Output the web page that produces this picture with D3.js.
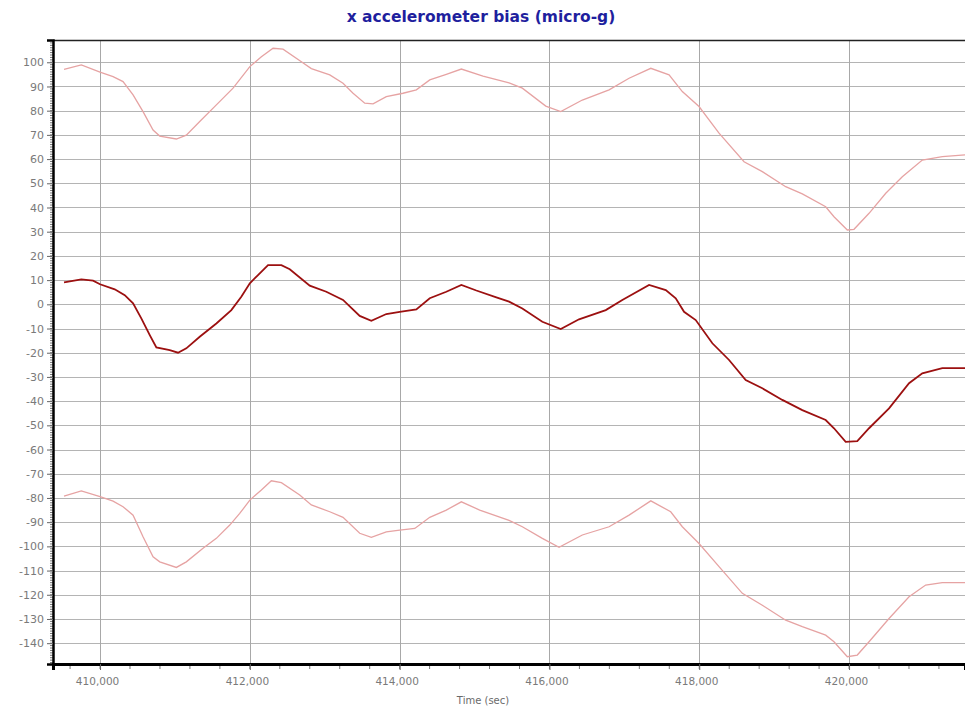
<!DOCTYPE html>
<html>
<head>
<meta charset="utf-8">
<script src="https://cdn.jsdelivr.net/npm/d3@7/dist/d3.min.js"></script>
<style>
  html, body { margin: 0; padding: 0; background: #fff; }
  svg { display: block; }
</style>
</head>
<body>
<svg id="chart" width="965" height="715"></svg>
<script>
// ---- data ----
const titleText = "x accelerometer bias (micro-g)";
const xAxisLabel = "Time (sec)";
const xTicks = [410000, 412000, 414000, 416000, 418000, 420000];
const yTicks = [100, 90, 80, 70, 60, 50, 40, 30, 20, 10, 0, -10, -20, -30, -40, -50, -60, -70, -80, -90, -100, -110, -120, -130, -140];

const biasTime = [409519, 409750, 409907, 410000, 410196, 410330, 410441, 410551, 410664, 410752, 410931, 411041, 411152, 411331, 411553, 411753, 411886, 412000, 412109, 412243, 412421, 412533, 412800, 413021, 413244, 413467, 413622, 413822, 414001, 414223, 414402, 414623, 414824, 415024, 415291, 415461, 415638, 415905, 416151, 416395, 416752, 416973, 417330, 417553, 417686, 417797, 417953, 418175, 418398, 418620, 418842, 419109, 419376, 419688, 419799, 419955, 420110, 420267, 420534, 420801, 420978, 421245, 421548];
const biasValues = [9.1, 10.3, 9.8, 8.3, 6.2, 3.8, 0.4, -5.8, -12.7, -17.8, -18.9, -20, -18.2, -13.4, -7.9, -2.4, 3.1, 8.7, 12.1, 16.2, 16.2, 14.5, 7.7, 5.2, 1.8, -4.8, -6.8, -4, -3.1, -2.1, 2.5, 5.2, 8, 5.7, 2.9, 1.1, -1.7, -7.2, -10.2, -6.2, -2.4, 1.8, 8, 5.9, 2.5, -3.1, -6.5, -16.1, -23, -31.3, -34.7, -39.5, -43.7, -47.8, -51.2, -56.8, -56.5, -51.2, -43, -32.6, -28.5, -26.4, -26.4];

const upperTime = [409519, 409750, 410000, 410174, 410307, 410441, 410574, 410708, 410797, 411019, 411152, 411331, 411553, 411776, 412000, 412154, 412310, 412443, 412688, 412821, 413067, 413244, 413378, 413534, 413645, 413822, 414045, 414223, 414402, 414623, 414824, 415113, 415461, 415638, 415951, 416151, 416439, 416796, 417063, 417353, 417597, 417774, 417997, 418264, 418598, 418842, 419154, 419376, 419688, 419799, 419977, 420066, 420267, 420490, 420711, 420978, 421245, 421548];
const upperValues = [97.1, 98.9, 95.9, 94.1, 92, 86.5, 79.6, 72, 69.5, 68.3, 69.9, 75.5, 82.4, 89.3, 98.2, 102.3, 105.8, 105.4, 100.2, 97.4, 94.8, 91.3, 87.2, 83.1, 82.8, 85.8, 87.2, 88.6, 92.7, 95, 97.2, 94.3, 91.5, 89.3, 81.9, 79.6, 84.4, 88.6, 93.4, 97.5, 94.8, 87.9, 81.7, 70.7, 58.9, 54.8, 48.6, 45.6, 40.3, 36.2, 30.7, 31, 37.6, 45.9, 52.7, 59.6, 61, 61.7];

const lowerTime = [409519, 409750, 410000, 410174, 410307, 410441, 410574, 410708, 410797, 411019, 411152, 411375, 411553, 411732, 411865, 412000, 412154, 412287, 412421, 412666, 412821, 413067, 413244, 413467, 413622, 413822, 414001, 414202, 414402, 414623, 414824, 415069, 415461, 415638, 415905, 416128, 416439, 416796, 417063, 417353, 417619, 417774, 417997, 418264, 418575, 418842, 419154, 419376, 419688, 419799, 419977, 420110, 420267, 420534, 420801, 421023, 421245, 421548];
const lowerValues = [-79.2, -77.1, -79.5, -81.3, -83.6, -87.1, -96, -104.3, -106.4, -108.7, -106.4, -100.8, -96.7, -91.2, -86.4, -80.9, -76.7, -72.9, -73.7, -78.8, -82.9, -85.7, -88, -94.6, -96.3, -94, -93.3, -92.6, -88, -85, -81.6, -85, -89.3, -91.9, -96.7, -100.4, -95.3, -91.9, -87.1, -81.2, -85.7, -91.9, -98.8, -108.4, -119.4, -124.3, -130.5, -133.2, -136.7, -139.4, -145.6, -144.9, -139.4, -129.8, -120.8, -116, -115, -115];

// ---- layout ----
const svg = d3.select("#chart");
const pL = 53, pR = 965, pT = 40, pB = 664;
const x = d3.scaleLinear().domain([409372, 421548]).range([pL, pR]);
const y = d3.scaleLinear().domain([-148.6, 109.2]).range([pB, pT]);

// horizontal grid
svg.append("g").selectAll("line").data(yTicks).join("line")
  .attr("x1", pL).attr("x2", pR)
  .attr("y1", d => Math.round(y(d)) + 0.5).attr("y2", d => Math.round(y(d)) + 0.5)
  .attr("stroke", "#b4b4b4").attr("stroke-width", 1);
// vertical grid
svg.append("g").selectAll("line").data(xTicks).join("line")
  .attr("y1", pT).attr("y2", pB)
  .attr("x1", d => Math.round(x(d)) + 0.5).attr("x2", d => Math.round(x(d)) + 0.5)
  .attr("stroke", "#a8a8a8").attr("stroke-width", 1);

// lines
const line = (ts, vs) => d3.line().x((d, i) => x(ts[i])).y(d => y(d))(vs);
svg.append("clipPath").attr("id", "clip").append("rect")
  .attr("x", pL).attr("y", pT).attr("width", pR - pL).attr("height", pB - pT);
const plot = svg.append("g").attr("clip-path", "url(#clip)");
plot.append("path").attr("d", line(upperTime, upperValues))
  .attr("fill", "none").attr("stroke", "#e6a3a3").attr("stroke-width", 1.3);
plot.append("path").attr("d", line(lowerTime, lowerValues))
  .attr("fill", "none").attr("stroke", "#e6a3a3").attr("stroke-width", 1.3);
plot.append("path").attr("d", line(biasTime, biasValues))
  .attr("fill", "none").attr("stroke", "#9c1010").attr("stroke-width", 1.8);

// top border
svg.append("line").attr("x1", pL).attr("x2", pR).attr("y1", pT + 0.5).attr("y2", pT + 0.5)
  .attr("stroke", "#222").attr("stroke-width", 1.5);

// y axis minor ticks
const yMinor = d3.range(-148, 110, 1);
svg.append("g").selectAll("line").data(yMinor).join("line")
  .attr("x1", pL - 3).attr("x2", pL)
  .attr("y1", d => y(d)).attr("y2", d => y(d))
  .attr("stroke", "#555").attr("stroke-width", 0.8);

// y axis
const yAxis = d3.axisLeft(y).tickValues(yTicks).tickFormat(d => String(d)).tickSize(6).tickPadding(3);
const gy = svg.append("g").attr("transform", `translate(${pL},0)`).call(yAxis);
gy.select(".domain").attr("stroke", "#000").attr("stroke-width", 2.5);
gy.selectAll(".tick line").attr("stroke", "#666");
gy.selectAll(".tick text").attr("fill", "#7a7a7a").style("font-family", "DejaVu Sans, sans-serif").style("font-size", "11px");

// x axis minor ticks
const xMinor = d3.range(409600, 421548, 400);
svg.append("g").selectAll("line").data(xMinor).join("line")
  .attr("y1", pB).attr("y2", pB + 5)
  .attr("x1", d => x(d)).attr("x2", d => x(d))
  .attr("stroke", "#777").attr("stroke-width", 1);

// x axis
const xAxis = d3.axisBottom(x).tickValues(xTicks).tickFormat(d3.format(",")).tickSize(6).tickPadding(8);
const gx = svg.append("g").attr("transform", `translate(0,${pB})`).call(xAxis);
gx.select(".domain").attr("stroke", "#000").attr("stroke-width", 3);
gx.selectAll(".tick line").attr("stroke", "#666");
gx.selectAll(".tick text").attr("fill", "#7a7a7a").attr("dx", "-3").style("font-family", "DejaVu Sans, sans-serif").style("font-size", "10.5px");

// title
svg.append("text").attr("x", 481).attr("y", 22).attr("text-anchor", "middle")
  .attr("fill", "#1f1f9e").style("font-family", "DejaVu Sans, sans-serif")
  .style("font-size", "15.5px").style("font-weight", "bold").text(titleText);

// x label
svg.append("text").attr("x", 483).attr("y", 704).attr("text-anchor", "middle")
  .attr("fill", "#6a6a6a").style("font-family", "DejaVu Sans, sans-serif")
  .style("font-size", "10px").text(xAxisLabel);
</script>
</body>
</html>
